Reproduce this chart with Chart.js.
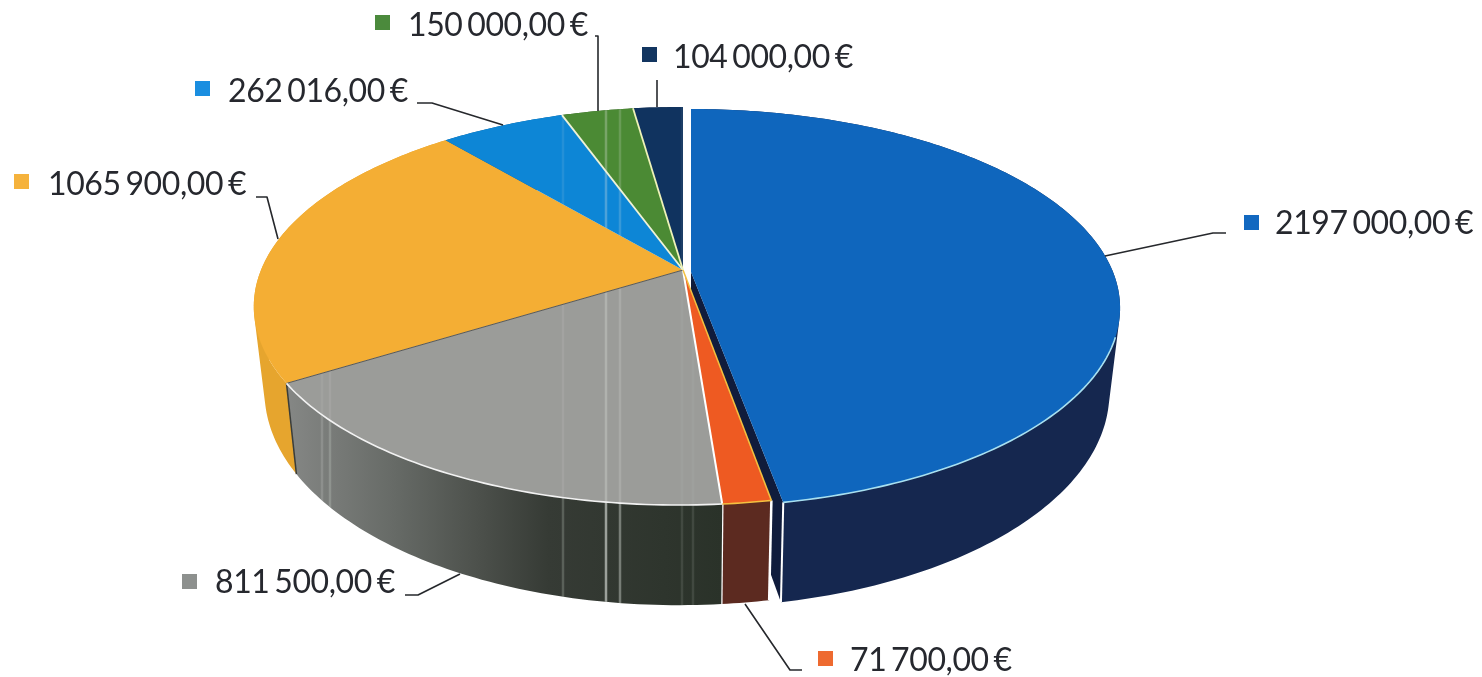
<!DOCTYPE html>
<html lang="pt">
<head>
<meta charset="UTF-8">
<title>Pie 3D</title>
<script src="https://cdn.jsdelivr.net/npm/chart.js"></script>
<style>
  html, body { margin: 0; padding: 0; background: #fff; }
  canvas { display: block; }
</style>
</head>
<body>
<canvas id="pie" width="1482" height="677"></canvas>
<script>
// data
const values = [2197000, 71700, 811500, 1065900, 262016, 150000, 104000];
const valueLabels = ['2197 000,00 €', '71 700,00 €', '811 500,00 €', '1065 900,00 €', '262 016,00 €', '150 000,00 €', '104 000,00 €'];
const topColors = ['#0f66bd', '#ee5a22', '#9b9c99', '#f4ae34', '#0d86d6', '#4b8a34', '#10335f'];
const wallColors = ['#15274f', '#5c2a20', '#3c4039', '#e6a52e', '#0a5c96', '#2f5a20', '#0a2240'];
const swatchColors = ['#1268c0', '#ee6a30', '#8d908e', '#f5b23c', '#1a8ee0', '#4b8a3c', '#123560'];

// layout of the labels (swatch x, swatch y, text x, baseline y)
const swatchX = [1244, 818, 182, 14, 195, 375, 642];
const swatchY = [215, 651, 574, 174, 81, 15, 47];
const textX = [1275, 850, 215, 48, 228, 408, 673];
const textY = [234, 671, 593, 195, 102, 36, 68];
const leaders = [
  [[1105, 256], [1213, 233], [1226, 233]],
  [[745, 604], [790, 670], [802, 670]],
  [[405, 595], [418, 595], [460, 574]],
  [[256, 197], [267, 197], [278, 239]],
  [[417, 103], [432, 103], [503, 125]],
  [[595, 36], [598, 36], [598, 111]],
  [[657, 80], [657, 107]]
];

// perspective of the disc
const cx = 683, cy = 270, ax = 422, by = 192.5, persp = 0.181;
const lean = -4;
const depth = 82, shrink = 0.975;
const blueDx = 8, blueDy = 2;

// scan streaks, x position and strength
const streakX = [322, 330, 563, 606, 620, 682, 693];
const streakA = [0.18, 0.22, 0.22, 0.6, 0.4, 0.12, 0.12];

function topPoint(angle, dx, dy) {
  const u = Math.cos(angle), v = Math.sin(angle);
  const w = 1 - persp * v;
  // the front of the scanned disc leans a little to the left
  const skew = dx === 0 && v > 0 ? lean * v * v : 0;
  return [cx + dx + skew + ax * u / w, cy + dy + by * v / w, w];
}

function basePoint(p, dx) {
  return [cx + dx + (p[0] - cx - dx) * shrink, p[1] + depth / p[2]];
}

function area(a, b, c, d) {
  const q = [a, b, c, d];
  let s = 0;
  for (let i = 0; i < 4; i++) {
    const n = q[(i + 1) % 4];
    s += q[i][0] * n[1] - n[0] * q[i][1];
  }
  return s;
}

function addQuad(path, a, b, c, d) {
  const q = area(a, b, c, d) >= 0 ? [a, b, c, d] : [d, c, b, a];
  path.moveTo(q[0][0], q[0][1]);
  for (let i = 1; i < 4; i++) path.lineTo(q[i][0], q[i][1]);
  path.closePath();
}

function drawStreaks(ctx, path, top, bottom, strength) {
  ctx.save();
  ctx.clip(path);
  streakX.forEach(function (x, i) {
    ctx.strokeStyle = 'rgba(225,230,225,' + streakA[i] * strength + ')';
    ctx.lineWidth = 2.5;
    ctx.beginPath();
    ctx.moveTo(x, top);
    ctx.lineTo(x, bottom);
    ctx.stroke();
  });
  ctx.restore();
}

function line(ctx, a, b, color, width) {
  ctx.strokeStyle = color;
  ctx.lineWidth = width;
  ctx.beginPath();
  ctx.moveTo(a[0], a[1]);
  ctx.lineTo(b[0], b[1]);
  ctx.stroke();
}

const pie3d = {
  id: 'pie3d',
  beforeDatasetsDraw(chart) {
    const ctx = chart.ctx;
    const arcs = chart.getDatasetMeta(0).data;
    const slices = [];

    arcs.forEach(function (arc, i) {
      const dx = i === 0 ? blueDx : 0, dy = i === 0 ? blueDy : 0;
      const n = Math.max(8, Math.ceil((arc.endAngle - arc.startAngle) * 60));
      const rim = [];
      for (let s = 0; s <= n; s++) {
        rim.push(topPoint(arc.startAngle + (arc.endAngle - arc.startAngle) * s / n, dx, dy));
      }
      slices.push({ i, dx, dy, rim, base: rim.map(function (p) { return basePoint(p, dx); }) });
    });

    // walls
    slices.forEach(function (sl) {
      const wall = new Path2D();
      for (let s = 0; s < sl.rim.length - 1; s++) {
        addQuad(wall, sl.rim[s], sl.rim[s + 1], sl.base[s + 1], sl.base[s]);
      }
      if (sl.i === 0) {
        // cut face of the pulled out slice
        const last = sl.rim[sl.rim.length - 1], lastBase = sl.base[sl.base.length - 1];
        const tip = [cx + sl.dx, cy + sl.dy];
        const tipBase = [cx + sl.dx, cy + sl.dy + depth];
        ctx.fillStyle = '#101c3c';
        ctx.beginPath();
        ctx.moveTo(tip[0], tip[1]);
        ctx.lineTo(last[0], last[1]);
        ctx.lineTo(lastBase[0], lastBase[1]);
        ctx.lineTo(tipBase[0], tipBase[1]);
        ctx.closePath();
        ctx.fill();
      }
      if (sl.i === 2) {
        const g = ctx.createLinearGradient(287, 0, 722, 0);
        g.addColorStop(0, '#858785');
        g.addColorStop(0.25, '#666a66');
        g.addColorStop(0.45, '#4b4f4a');
        g.addColorStop(0.6, '#363b35');
        g.addColorStop(1, '#2a3229');
        ctx.fillStyle = g;
      } else {
        ctx.fillStyle = wallColors[sl.i];
      }
      ctx.fill(wall);
      if (sl.i === 2) drawStreaks(ctx, wall, 380, 610, 1);
      const a = sl.rim[0], b = sl.base[0];
      const c = sl.rim[sl.rim.length - 1], d = sl.base[sl.base.length - 1];
      if (sl.i === 0) line(ctx, c, d, '#ffffff', 2);
      if (sl.i === 1) { line(ctx, a, b, '#ffffff', 2.5); line(ctx, c, d, '#ffffff', 2.5); }
      if (sl.i === 3) line(ctx, a, b, '#3a3d3a', 1.5);
    });

    // top faces
    slices.forEach(function (sl) {
      const face = new Path2D();
      const tip = [cx + sl.dx, cy + sl.dy];
      face.moveTo(tip[0], tip[1]);
      sl.rim.forEach(function (p) { face.lineTo(p[0], p[1]); });
      face.closePath();
      ctx.fillStyle = topColors[sl.i];
      ctx.fill(face);
      if (sl.i >= 2 && sl.i !== 3) drawStreaks(ctx, face, 100, 510, 0.5);
    });

    // edges between the faces
    const edgeColors = ['#ffffff', '#ffffff', '#55585a', 'rgba(255,255,255,0)', '#eef2d8', '#eef2b8', 'rgba(255,255,255,0)'];
    slices.forEach(function (sl) {
      const tip = [cx + sl.dx, cy + sl.dy];
      const first = sl.rim[0], last = sl.rim[sl.rim.length - 1];
      if (sl.i === 1) line(ctx, tip, last, '#ffffff', 2);
      if (sl.i === 1) line(ctx, tip, first, '#f2c040', 1.5);
      if (sl.i === 2) line(ctx, tip, last, '#55585a', 1);
      if (sl.i >= 4) line(ctx, tip, last, edgeColors[sl.i], 1.8);
    });
    const rimColors = ['#a8e0f0', '#f5c040', '#f2f2f2'];
    rimColors.forEach(function (color, i) {
      const rim = slices[i].rim;
      ctx.strokeStyle = color;
      ctx.lineWidth = 1.6;
      ctx.beginPath();
      let started = false;
      rim.forEach(function (p) {
        // only the front of the rim has a lit edge
        if (p[1] < 337) return;
        if (!started) { ctx.moveTo(p[0], p[1]); started = true; } else { ctx.lineTo(p[0], p[1]); }
      });
      ctx.stroke();
    });

    // leader lines
    ctx.lineJoin = 'round';
    leaders.forEach(function (pts) {
      ctx.strokeStyle = '#26282c';
      ctx.lineWidth = 1.6;
      ctx.beginPath();
      pts.forEach(function (p, i) { if (i === 0) ctx.moveTo(p[0], p[1]); else ctx.lineTo(p[0], p[1]); });
      ctx.stroke();
    });

    // labels
    ctx.textBaseline = 'alphabetic';
    ctx.textAlign = 'left';
    ctx.letterSpacing = '-0.4px';
    ctx.wordSpacing = '-3px';
    valueLabels.forEach(function (label, i) {
      ctx.fillStyle = swatchColors[i];
      ctx.fillRect(swatchX[i], swatchY[i], 15, 15);
      ctx.fillStyle = '#26282e';
      ctx.font = '32px Lato';
      ctx.fillText(label, textX[i], textY[i]);
    });
    ctx.letterSpacing = '0px';
    ctx.wordSpacing = '0px';
    return false;
  }
};

new Chart(document.getElementById('pie'), {
  type: 'pie',
  data: {
    labels: valueLabels,
    datasets: [{ data: values, backgroundColor: topColors, borderWidth: 0 }]
  },
  options: {
    responsive: false,
    animation: false,
    plugins: { legend: { display: false }, tooltip: { enabled: false } }
  },
  plugins: [pie3d]
});
</script>
</body>
</html>
